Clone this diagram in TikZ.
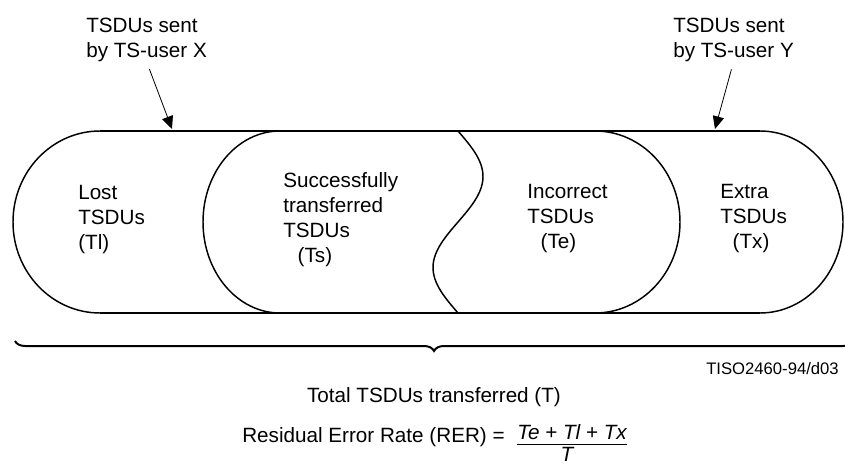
\documentclass[tikz,border=0pt]{standalone}
\usepackage{fontspec}
\setmainfont{Liberation Sans}
\usetikzlibrary{arrows.meta,decorations.pathreplacing}

\tikzset{
    txt/.style={inner sep=0pt, font=\fontsize{15.5pt}{18.75pt}\selectfont},
    lbl/.style={txt, align=left, anchor=west},
    rim/.style={line width=1.5pt},
    lobe/.style={line width=1.1pt},
    pointer/.style={line width=0.6pt, -{Triangle[length=9.5pt,width=8.5pt]}, shorten <=6pt}
}

\begin{document}
\begin{tikzpicture}[x=0.75pt,y=0.75pt]
    \useasboundingbox (0,0) rectangle (845,465);

    % band with the four regions
    \draw [rim] (100,334) -- (760,334);
    \draw [rim] (100,152) -- (760,152);
    \draw [lobe] (100,334) arc [start angle=90, end angle=270, x radius=87, y radius=91];
    \draw [lobe] (280,334) arc [start angle=90, end angle=270, x radius=77, y radius=91];
    \draw [lobe] plot [domain=0:1, samples=60, smooth] ({458+25*sin(360*\x)}, {334-182*\x});
    \draw [lobe] (595,334) arc [start angle=90, end angle=-90, x radius=85, y radius=91];
    \draw [lobe] (760,334) arc [start angle=90, end angle=-90, x radius=83, y radius=91];

    \node [lbl] (lost) at (78,245) {Lost\\TSDUs\\(Tl)};
    \node [lbl] (success) at (283,245.5) {Successfully\\transferred\\TSDUs\\\hspace*{0.7em}(Ts)};
    \node [lbl] (incorrect) at (527,246) {Incorrect\\TSDUs\\\hspace*{0.65em}(Te)};
    \node [lbl] (extra) at (720,246) {Extra\\TSDUs\\\hspace*{0.6em}(Tx)};

    % senders
    \node [lbl] (sentX) at (86,425.5) {TSDUs sent\\by TS-user X};
    \node [lbl] (sentY) at (673,425.5) {TSDUs sent\\by TS-user Y};
    \coordinate (inX) at (172,336);
    \coordinate (inY) at (715,336);
    \draw [pointer] (sentX.south) -- (inX);
    \draw [pointer] (sentY.south) -- (inY);

    % total and rate
    \draw [rim, decorate, decoration={brace, mirror, amplitude=7.5pt}] (15,124) -- (853,124);
    \node [inner sep=0pt, anchor=east, font=\fontsize{12.5pt}{15pt}\selectfont] (figid) at (839,96) {TISO2460-94/d03};
    \node [txt] (total) at (434,68) {Total TSDUs transferred (T)};
    \node [txt, anchor=base west] (rer) at (242,23) {Residual Error Rate (RER) =};
    \node [txt, anchor=base, font=\fontsize{15.5pt}{18.75pt}\selectfont\itshape] (num) at (572,25.5) {Te + Tl + Tx};
    \node [txt, anchor=base, font=\fontsize{15.5pt}{18.75pt}\selectfont\itshape] (den) at (567,4) {T};
    \draw [line width=1.2pt] (517,20.5) -- (627,20.5);

\end{tikzpicture}
\end{document}
